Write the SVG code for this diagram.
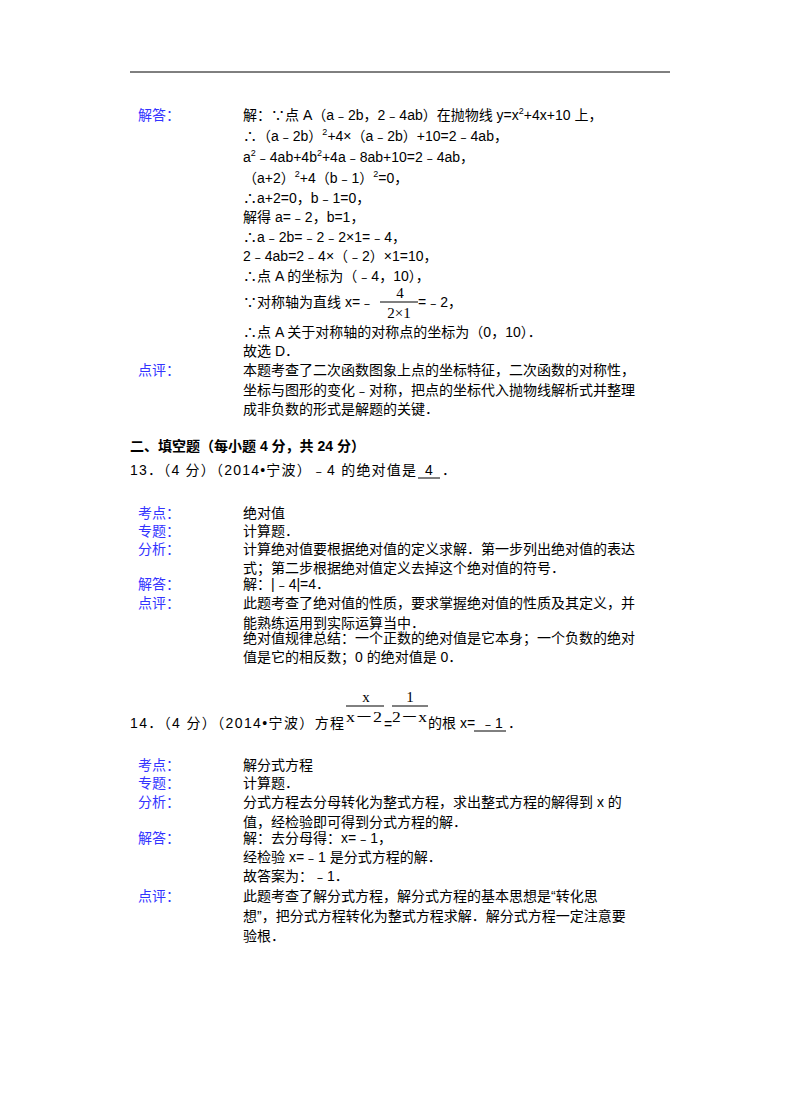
<svg xmlns="http://www.w3.org/2000/svg" width="800" height="1107" viewBox="0 0 800 1107">
<style>
text{font-family:"Liberation Sans","Noto Sans CJK SC",sans-serif;font-size:14px;fill:#000}
.l{fill:#3333ff}
.s{font-family:"Liberation Serif","Noto Sans CJK SC",serif;font-size:15px}
.p{font-size:9px}
line{stroke:#000;stroke-width:1}
</style>
<rect width="800" height="1107" fill="#fff"/>
<line x1="130" y1="72" x2="670" y2="72" stroke-width="2"/>
<text class="l" x="138" y="120">解答：</text>
<text x="243" y="120">解：∵点 A（a﹣2b，2﹣4ab）在抛物线 y=x<tspan class="p" dy="-6">2</tspan><tspan dy="6">+4x+10 上，</tspan></text>
<text x="243" y="141">∴（a﹣2b）<tspan class="p" dy="-6">2</tspan><tspan dy="6">+4×（a﹣2b）+10=2﹣4ab，</tspan></text>
<text x="243" y="162">a<tspan class="p" dy="-6">2</tspan><tspan dy="6">﹣4ab+4b</tspan><tspan class="p" dy="-6">2</tspan><tspan dy="6">+4a﹣8ab+10=2﹣4ab，</tspan></text>
<text x="243" y="183">（a+2）<tspan class="p" dy="-6">2</tspan><tspan dy="6">+4（b﹣1）</tspan><tspan class="p" dy="-6">2</tspan><tspan dy="6">=0，</tspan></text>
<text x="243" y="203">∴a+2=0，b﹣1=0，</text>
<text x="243" y="222">解得 a=﹣2，b=1，</text>
<text x="243" y="242">∴a﹣2b=﹣2﹣2×1=﹣4，</text>
<text x="243" y="261">2﹣4ab=2﹣4×（﹣2）×1=10，</text>
<text x="243" y="281">∴点 A 的坐标为（﹣4，10），</text>
<text x="243" y="307">∵对称轴为直线 x=﹣</text>
<text class="s" x="400" y="298" text-anchor="middle">4</text>
<line x1="380" y1="302" x2="418" y2="302"/>
<text class="s" x="399" y="318" text-anchor="middle">2×1</text>
<text x="418" y="307">=﹣2，</text>
<text x="243" y="337">∴点 A 关于对称轴的对称点的坐标为（0，10）．</text>
<text x="243" y="356">故选 D．</text>
<text class="l" x="138" y="375">点评：</text>
<text x="243" y="375">本题考查了二次函数图象上点的坐标特征，二次函数的对称性，</text>
<text x="243" y="395">坐标与图形的变化﹣对称，把点的坐标代入抛物线解析式并整理</text>
<text x="243" y="414">成非负数的形式是解题的关键．</text>
<text x="130" y="451" font-weight="bold">二、填空题（每小题 4 分，共 24 分）</text>
<text x="130" y="475" textLength="286" lengthAdjust="spacing">13．（4 分）（2014•宁波）﹣4 的绝对值是</text>
<text x="425" y="475">4</text>
<line x1="418" y1="478" x2="440" y2="478"/>
<text x="442" y="475">．</text>
<text class="l" x="138" y="518">考点：</text><text x="243" y="518">绝对值</text>
<text class="l" x="138" y="536">专题：</text><text x="243" y="536">计算题．</text>
<text class="l" x="138" y="554">分析：</text><text x="243" y="554">计算绝对值要根据绝对值的定义求解．第一步列出绝对值的表达</text>
<text x="243" y="573">式；第二步根据绝对值定义去掉这个绝对值的符号．</text>
<text class="l" x="138" y="589">解答：</text><text x="243" y="589">解：|﹣4|=4．</text>
<text class="l" x="138" y="608">点评：</text><text x="243" y="608">此题考查了绝对值的性质，要求掌握绝对值的性质及其定义，并</text>
<text x="243" y="628">能熟练运用到实际运算当中．</text>
<text x="243" y="643">绝对值规律总结：一个正数的绝对值是它本身；一个负数的绝对</text>
<text x="243" y="662">值是它的相反数；0 的绝对值是 0．</text>
<text x="130" y="728" textLength="214" lengthAdjust="spacing">14．（4 分）（2014•宁波）方程</text>
<text class="s" x="366" y="702" text-anchor="middle">x</text>
<line x1="346" y1="706" x2="384" y2="706"/>
<text class="s" x="346" y="722" textLength="36" lengthAdjust="spacingAndGlyphs">x－2</text>
<text x="384" y="729" font-size="9">=</text>
<text class="s" x="410" y="702" text-anchor="middle">1</text>
<line x1="392" y1="706" x2="428" y2="706"/>
<text class="s" x="392" y="722" textLength="35" lengthAdjust="spacingAndGlyphs">2－x</text>
<text x="428" y="728">的根 x=</text>
<text x="481" y="728">﹣1</text>
<line x1="474" y1="731" x2="506" y2="731"/>
<text x="508" y="728">．</text>
<text class="l" x="138" y="770">考点：</text><text x="243" y="770">解分式方程</text>
<text class="l" x="138" y="788">专题：</text><text x="243" y="788">计算题．</text>
<text class="l" x="138" y="807">分析：</text><text x="243" y="807">分式方程去分母转化为整式方程，求出整式方程的解得到 x 的</text>
<text x="243" y="827">值，经检验即可得到分式方程的解．</text>
<text class="l" x="138" y="843">解答：</text><text x="243" y="843">解：去分母得：x=﹣1，</text>
<text x="243" y="862">经检验 x=﹣1 是分式方程的解．</text>
<text x="243" y="881">故答案为：﹣1．</text>
<text class="l" x="138" y="901">点评：</text><text x="243" y="901">此题考查了解分式方程，解分式方程的基本思想是“转化思</text>
<text x="243" y="921">想”，把分式方程转化为整式方程求解．解分式方程一定注意要</text>
<text x="243" y="941">验根．</text>
</svg>
